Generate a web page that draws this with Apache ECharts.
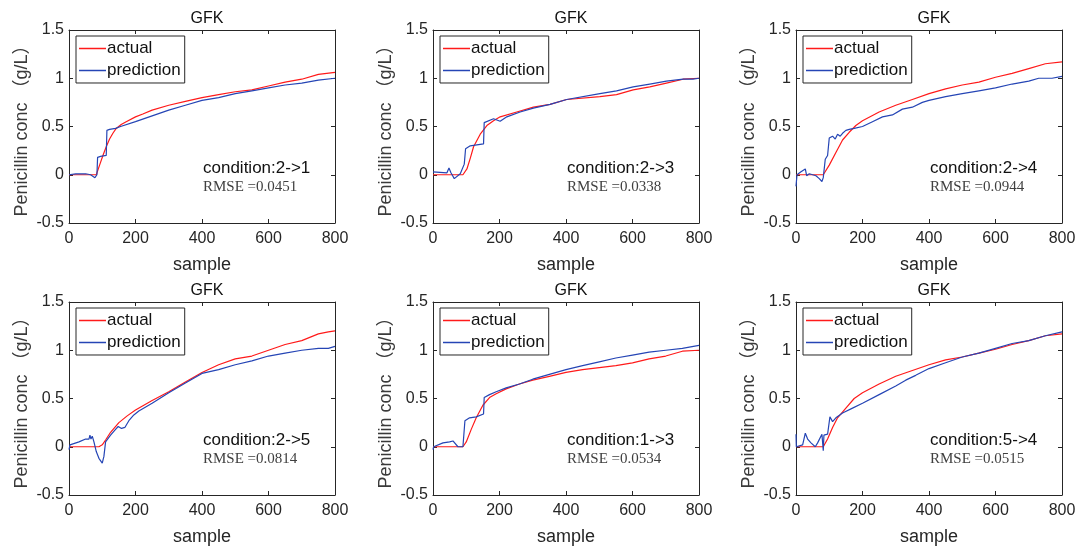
<!DOCTYPE html>
<html>
<head>
<meta charset="utf-8">
<script src="https://cdn.jsdelivr.net/npm/echarts@6/dist/echarts.min.js"></script>
<style>
html,body{margin:0;padding:0;background:#fff;}
#chart{width:1082px;height:551px;}
</style>
</head>
<body>
<div id="chart"></div>
<script>
// ---- data ----
const panelTitle = 'GFK';
const conditions = ['condition:2->1','condition:2->3','condition:2->4','condition:2->5','condition:1->3','condition:5->4'];
const rmse = ['RMSE =0.0451','RMSE =0.0338','RMSE =0.0944','RMSE =0.0814','RMSE =0.0534','RMSE =0.0515'];
const xTicks = {min:0, max:800, interval:200};
const yTicks = {min:-0.5, max:1.5, interval:0.5};

const actual1 = [[0,0],[82,0],[92,0.1],[102,0.2],[112,0.29],[122,0.37],[132,0.43],[142,0.48],[157,0.52],[172,0.55],[200,0.6],[222,0.63],[250,0.67],[300,0.72],[350,0.76],[400,0.8],[450,0.83],[500,0.86],[550,0.88],[600,0.92],[650,0.96],[700,0.99],[750,1.04],[800,1.06]];
const pred1 = [[0,0],[20,0.01],[50,0.01],[65,0],[78,-0.03],[84,0],[86,0.18],[95,0.19],[112,0.2],[114,0.46],[122,0.47],[128,0.46],[140,0.48],[155,0.5],[200,0.55],[250,0.61],[300,0.67],[350,0.72],[400,0.77],[450,0.8],[500,0.84],[550,0.87],[600,0.9],[650,0.93],[700,0.95],[750,0.98],[800,1.0]];

const actual2 = [[0,0],[90,0],[102,0.06],[112,0.17],[122,0.29],[142,0.42],[162,0.51],[182,0.56],[202,0.6],[252,0.65],[302,0.7],[352,0.73],[402,0.78],[502,0.81],[552,0.83],[602,0.88],[652,0.91],[702,0.95],[752,0.99],[800,1.0]];
const pred2 = [[0,0.03],[2,0.01],[42,0.02],[48,0.07],[54,0.02],[64,-0.04],[82,0.01],[94,0.11],[98,0.27],[112,0.3],[152,0.32],[154,0.54],[182,0.58],[202,0.555],[222,0.6],[262,0.65],[302,0.69],[352,0.73],[402,0.78],[502,0.84],[552,0.87],[602,0.91],[652,0.94],[702,0.97],[752,0.99],[782,0.99],[800,1.0]];

const actual3 = [[0,0],[82,0],[100,0.1],[120,0.23],[140,0.36],[160,0.44],[180,0.51],[200,0.56],[250,0.65],[300,0.72],[350,0.78],[400,0.84],[450,0.89],[500,0.93],[550,0.96],[600,1.01],[650,1.05],[700,1.1],[750,1.15],[800,1.17]];
const pred3 = [[0,-0.12],[3,0],[15,0.03],[28,0.06],[32,-0.01],[40,0.01],[50,0],[60,-0.01],[70,-0.04],[78,-0.07],[82,-0.03],[88,0.16],[95,0.2],[100,0.38],[105,0.36],[110,0.4],[118,0.37],[125,0.42],[133,0.4],[140,0.43],[150,0.46],[160,0.47],[175,0.48],[200,0.5],[230,0.55],[260,0.6],[290,0.62],[320,0.68],[350,0.7],[380,0.75],[400,0.77],[450,0.81],[500,0.84],[550,0.87],[600,0.9],[650,0.94],[700,0.97],[730,1.0],[770,1.0],[800,1.02]];

const actual4 = [[0,0],[90,0],[100,0.02],[110,0.07],[125,0.15],[150,0.25],[175,0.32],[200,0.38],[250,0.48],[300,0.57],[350,0.67],[400,0.77],[450,0.85],[500,0.91],[550,0.94],[600,1.0],[650,1.06],[700,1.1],[750,1.17],[780,1.19],[800,1.2]];
const pred4 = [[0,-0.03],[3,0.02],[30,0.05],[50,0.08],[55,0.1],[60,0.08],[63,0.12],[66,0.08],[70,0.11],[75,0.05],[82,-0.05],[90,-0.12],[100,-0.17],[105,-0.1],[110,0.05],[125,0.12],[140,0.18],[148,0.21],[158,0.19],[168,0.2],[180,0.27],[195,0.33],[210,0.37],[250,0.45],[300,0.56],[350,0.66],[400,0.76],[450,0.8],[500,0.85],[550,0.89],[600,0.94],[650,0.97],[700,1.0],[750,1.02],[780,1.02],[800,1.04]];

const actual5 = [[0,0],[90,0],[100,0.05],[115,0.18],[130,0.3],[150,0.43],[170,0.51],[190,0.55],[220,0.6],[260,0.65],[300,0.69],[350,0.73],[400,0.77],[450,0.8],[500,0.82],[550,0.84],[600,0.87],[650,0.91],[700,0.94],[750,0.99],[800,1.0]];
const pred5 = [[0,-0.03],[2,0],[30,0.04],[50,0.05],[60,0.06],[75,0],[90,0],[96,0.27],[110,0.3],[130,0.31],[152,0.34],[154,0.51],[170,0.54],[190,0.57],[220,0.61],[260,0.65],[300,0.7],[350,0.75],[400,0.8],[450,0.84],[500,0.88],[550,0.92],[600,0.95],[650,0.98],[700,1.0],[750,1.02],[800,1.05]];

const actual6 = [[0,0],[82,0],[95,0.08],[110,0.2],[125,0.3],[150,0.4],[175,0.5],[200,0.56],[250,0.65],[300,0.73],[350,0.79],[400,0.85],[450,0.9],[500,0.93],[550,0.97],[600,1.01],[650,1.06],[700,1.1],[750,1.15],[800,1.17]];
const pred6 = [[0,0.13],[1,0],[20,0.02],[28,0.14],[35,0.08],[45,0.04],[58,0],[65,0.04],[78,0.13],[82,-0.04],[84,0.12],[95,0.13],[102,0.31],[110,0.26],[120,0.3],[140,0.35],[170,0.4],[200,0.45],[250,0.54],[300,0.63],[330,0.69],[360,0.74],[400,0.81],[450,0.87],[500,0.93],[550,0.97],[600,1.02],[650,1.07],[700,1.1],[750,1.15],[800,1.19]];

const actualSets = [actual1, actual2, actual3, actual4, actual5, actual6];
const predSets = [pred1, pred2, pred3, pred4, pred5, pred6];

// ---- layout ----
const gridPos = [
  {left:69, top:30}, {left:433, top:30}, {left:796, top:30},
  {left:69, top:302}, {left:433, top:302}, {left:796, top:302}
];
const GW = 266, GH = 193;
const axisColor = '#262626';
const sans = '"Liberation Sans", Arial, "Noto Sans CJK SC", sans-serif';
const serif = '"Liberation Serif", "Times New Roman", serif';
const redC = '#ff1a1a', blueC = '#2545b5';

const grid = [], xAxis = [], yAxis = [], series = [], legend = [], title = [], graphic = [];
const lineAx = {show:true, onZero:false, lineStyle:{color:axisColor, width:1}};
const tickIn = {show:true, inside:true, length:4, lineStyle:{color:axisColor}};

gridPos.forEach((g, i) => {
  grid.push({left:g.left, top:g.top, width:GW, height:GH, containLabel:false});
  xAxis.push({gridIndex:i, type:'value', min:xTicks.min, max:xTicks.max, interval:xTicks.interval,
    name:'sample', nameLocation:'middle', nameGap:33,
    nameTextStyle:{fontFamily:sans, fontSize:18, color:'#262626'},
    axisLine:lineAx, axisTick:tickIn, splitLine:{show:false},
    axisLabel:{fontFamily:sans, fontSize:16, color:axisColor, margin:8}});
  yAxis.push({gridIndex:i, type:'value', min:yTicks.min, max:yTicks.max, interval:yTicks.interval,
    name:'Penicillin conc （g/L）', nameLocation:'middle', nameGap:38, nameRotate:90,
    nameTextStyle:{fontFamily:sans, fontSize:18, color:'#3a3a3a'},
    axisLine:lineAx, axisTick:tickIn, splitLine:{show:false},
    axisLabel:{fontFamily:sans, fontSize:16, color:axisColor, margin:5}});
});
gridPos.forEach((g, i) => {
  xAxis.push({gridIndex:i, type:'value', position:'top', min:xTicks.min, max:xTicks.max, interval:xTicks.interval,
    axisLine:lineAx, axisTick:tickIn, axisLabel:{show:false}, splitLine:{show:false}});
  yAxis.push({gridIndex:i, type:'value', position:'right', min:yTicks.min, max:yTicks.max, interval:yTicks.interval,
    axisLine:lineAx, axisTick:tickIn, axisLabel:{show:false}, splitLine:{show:false}});
});

gridPos.forEach((g, i) => {
  series.push({name:'actual', type:'line', xAxisIndex:i, yAxisIndex:i, data:actualSets[i],
    symbol:'none', showSymbol:false, lineStyle:{color:redC, width:1.2}, itemStyle:{color:redC}, z:2});
  series.push({name:'prediction', type:'line', xAxisIndex:i, yAxisIndex:i, data:predSets[i],
    symbol:'none', showSymbol:false, lineStyle:{color:blueC, width:1.2}, itemStyle:{color:blueC}, z:3});
  legend.push({left:g.left + 7, top:g.top + 6, orient:'vertical',
    data:[{name:'actual', icon:'rect'}, {name:'prediction', icon:'rect'}],
    backgroundColor:'#fff', borderColor:axisColor, borderWidth:1, borderRadius:0,
    padding:[4,4,4,3], itemGap:5, itemWidth:27, itemHeight:1.5, selectedMode:false,
    textStyle:{fontFamily:sans, fontSize:17, color:'#111', padding:[0,0,0,-4]}});
  title.push({text:panelTitle, left:g.left + GW/2, top:g.top - 24, textAlign:'center',
    textStyle:{fontFamily:sans, fontSize:16, fontWeight:'normal', color:'#111'}});
  graphic.push({type:'text', x:g.left + 134, y:g.top + 138,
    style:{text:conditions[i], font:'17px ' + sans, fill:'#111', verticalAlign:'middle'}});
  graphic.push({type:'text', x:g.left + 134, y:g.top + 157,
    style:{text:rmse[i], font:'15px ' + serif, fill:'#404040', verticalAlign:'middle'}});
});

const chart = echarts.init(document.getElementById('chart'), null, {renderer:'canvas'});
chart.setOption({
  animation:false,
  backgroundColor:'#fff',
  title, grid, xAxis, yAxis, legend, series, graphic
});
</script>
</body>
</html>
